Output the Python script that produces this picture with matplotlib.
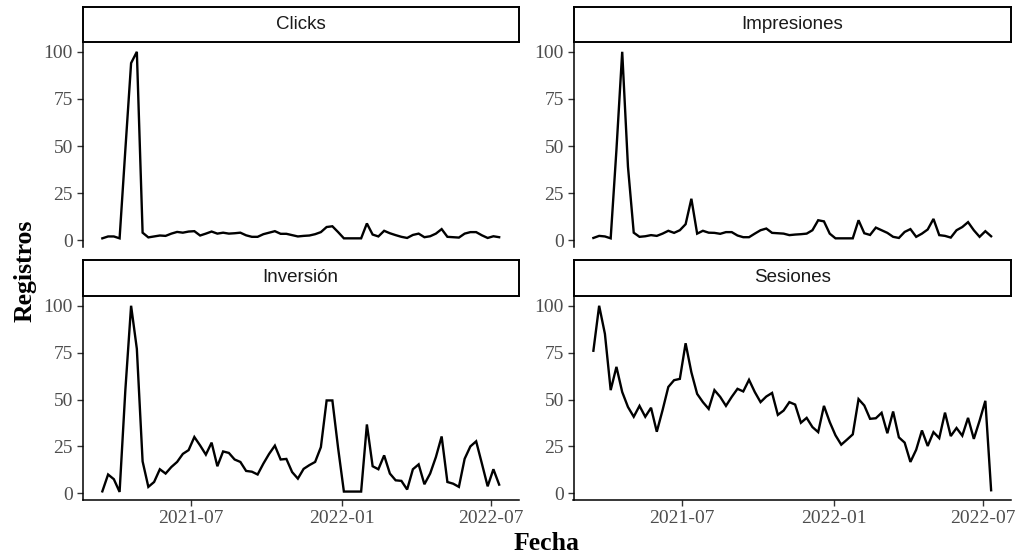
import matplotlib
matplotlib.use("Agg")
import matplotlib.pyplot as plt
import matplotlib.dates as mdates
import pandas as pd

# datos semanales (valores normalizados 0-100)
fecha_inicio = "2021-03-15"

clicks = [1, 2, 2, 1, 48, 94, 100, 4, 1.5, 2,
          2.5, 2.3, 3.5, 4.4, 4, 4.6, 4.8, 2.5, 3.5, 4.6,
          3.5, 4, 3.5, 3.7, 4, 2.6, 1.8, 1.8, 3.2, 4,
          4.8, 3.4, 3.4, 2.7, 2, 2.3, 2.5, 3.2, 4.3, 7,
          7.4, 4.3, 1, 1, 1, 1, 8.9, 3, 2, 5,
          3.7, 2.7, 1.8, 1.2, 2.8, 3.5, 1.6, 2.1, 3.5, 5.9,
          1.8, 1.6, 1.4, 3.5, 4.3, 4.3, 2.6, 1.2, 2.1, 1.6]

impresiones = [1.2, 2.3, 2, 1, 48, 100, 39, 4, 1.8, 2.1,
               2.7, 2.3, 3.5, 5, 3.9, 5.3, 8.5, 22, 3.5, 5,
               4, 3.9, 3.4, 4.3, 4.3, 2.5, 1.6, 1.6, 3.5, 5.3,
               6.2, 3.9, 3.7, 3.5, 2.7, 3, 3.2, 3.5, 5.3, 10.6,
               10, 3.5, 1, 1, 1, 1, 10.6, 3.7, 2.8, 6.7,
               5.3, 3.9, 1.8, 1.2, 4.4, 5.9, 1.8, 3.5, 5.7, 11.3,
               2.7, 2.3, 1.4, 5.3, 7, 9.6, 5.3, 1.8, 4.8, 2.1]

inversion = [1, 10, 7.5, 0.7, 55, 100, 77, 17, 3.4, 6,
             12.8, 10.5, 14, 16.7, 21, 23, 30, 25.5, 20.6, 27,
             14.4, 22.3, 21.5, 18, 16.7, 11.9, 11.5, 10, 15.8, 21,
             25.4, 18, 18.3, 11.3, 7.8, 13, 15, 16.7, 24.6, 49.5,
             49.5, 24, 0.9, 0.9, 0.9, 0.9, 36.7, 14.4, 12.8, 20.2,
             10.5, 6.9, 6.6, 2, 12.8, 15.4, 4.8, 10.5, 19.3, 30.3,
             6, 5.1, 3.4, 18.4, 25, 27.7, 15.8, 3.7, 12.8, 4.6]

sesiones = [76, 100, 85, 55, 67.4, 54, 46, 40.8, 46.6, 40.8,
            45.6, 32.8, 44.3, 56.7, 60.3, 61, 80, 64.5, 53, 48.6,
            45, 55, 51.4, 46.6, 51.4, 55.7, 54.3, 60.5, 54, 48.6,
            51.6, 53.5, 41.8, 44.1, 48.6, 47.3, 37.6, 40.2, 35.3, 32.6,
            46.6, 38, 30.9, 25.9, 28.6, 31.4, 50.2, 46.8, 39.7, 40,
            42.9, 32, 43.6, 29.8, 27, 16.7, 23.2, 33.5, 25.2, 32.6,
            29.4, 43, 30.5, 34.8, 30.7, 40.2, 29, 38.7, 49.3, 1.6]

titulos = ["Clicks", "Impresiones", "Inversión", "Sesiones"]
series = [clicks, impresiones, inversion, sesiones]
y_ticks = [0, 25, 50, 75, 100]
x_ticks = ["2021-07-01", "2022-01-01", "2022-07-01"]

fechas = pd.date_range(fecha_inicio, periods=len(clicks), freq="7D")

serif = ["Liberation Serif", "DejaVu Serif"]
sans = ["Liberation Sans", "DejaVu Sans"]

fig = plt.figure(figsize=(10.19, 5.6), dpi=100)
W, H = 1019.0, 560.0

# posiciones de los paneles en pixeles: (x0, x1), (y_top, y_bottom)
cols = [(82.5, 519.0), (573.5, 1011.0)]
rows = [((7, 42), (42, 247)), ((260, 296), (296, 500))]

span = fechas[-1] - fechas[0]
x_lim = (fechas[0] - span * 0.05, fechas[-1] + span * 0.05)

for i, (titulo, valores) in enumerate(zip(titulos, series)):
    r, c = divmod(i, 2)
    x0, x1 = cols[c]
    (st, sb), (pt, pb) = rows[r]

    # panel
    ax = fig.add_axes([x0 / W, (H - pb) / H, (x1 - x0) / W, (pb - pt) / H])
    ax.plot(fechas, valores, color="black", lw=1.7, solid_joinstyle="miter")
    ax.set_xlim(x_lim)
    ax.set_ylim(-3.6, 105.2)
    ax.set_yticks(y_ticks)
    ax.set_xticks(pd.to_datetime(x_ticks))
    ax.xaxis.set_major_formatter(mdates.DateFormatter("%Y-%m"))
    for s in ["top", "right"]:
        ax.spines[s].set_visible(False)
    ax.spines["left"].set_linewidth(1.1)
    if r == 0:
        ax.spines["bottom"].set_visible(False)
        ax.tick_params(axis="x", bottom=False, labelbottom=False)
    else:
        ax.spines["bottom"].set_linewidth(1.1)
    ax.tick_params(length=4, width=1.0, color="#333333", labelcolor="#4D4D4D",
                   labelsize=14, pad=3)
    for lab in ax.get_xticklabels() + ax.get_yticklabels():
        lab.set_family(serif)

    # strip
    sx = fig.add_axes([x0 / W, (H - sb) / H, (x1 - x0) / W, (sb - st) / H])
    sx.set_xticks([])
    sx.set_yticks([])
    for s in sx.spines.values():
        s.set_linewidth(1.4)
        s.set_color("black")
    sx.text(0.5, 0.5, titulo, ha="center", va="center", fontsize=13.5,
            family=sans, color="#1A1A1A", transform=sx.transAxes)

fig.text(25 / W, (H - 271) / H, "Registros", rotation=90, ha="center",
         va="center", fontsize=18.5, fontweight="bold", family=serif)
fig.text(547 / W, (H - 544) / H, "Fecha", ha="center", va="center",
         fontsize=18.5, fontweight="bold", family=serif)

fig.savefig("out.png", dpi=100, facecolor="white")
